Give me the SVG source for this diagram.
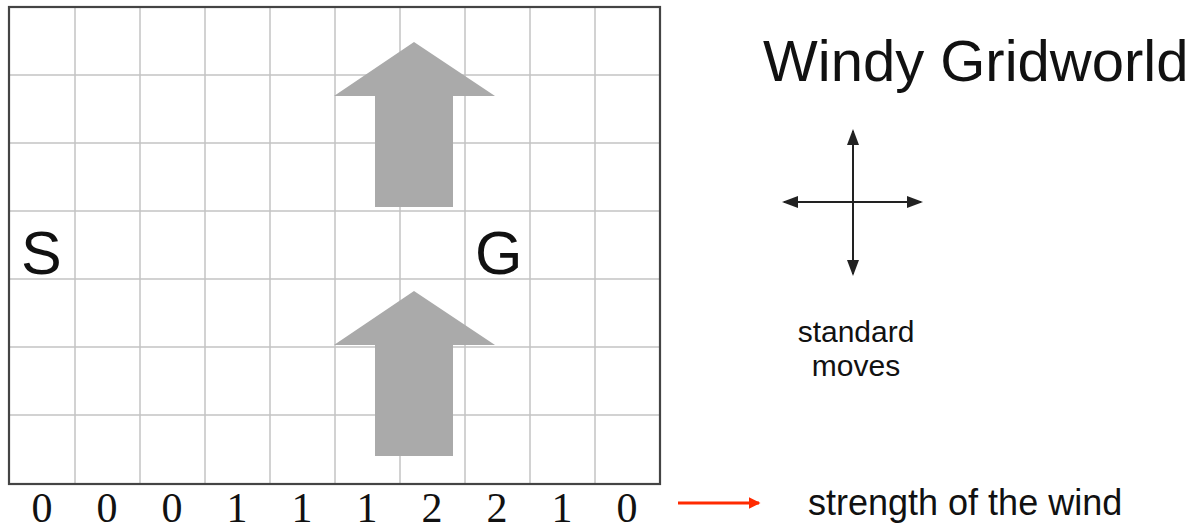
<svg xmlns="http://www.w3.org/2000/svg" width="1197" height="530" viewBox="0 0 1197 530">
<style>
.grid{stroke:#c4c4c4;stroke-width:1.5;fill:none}
.border{stroke:#444;stroke-width:2.2;fill:none}
.wind{fill:#aaaaaa}
.sans{font-family:"Liberation Sans",Arial,sans-serif;fill:#111}
.num{font-family:"Liberation Serif","Times New Roman",serif;font-size:42px;fill:#111;text-anchor:middle}
.mv{stroke:#222;stroke-width:2;fill:none}
</style>
<defs>
<marker id="ah" markerWidth="8" markerHeight="6" refX="7" refY="3" orient="auto" markerUnits="strokeWidth">
<path d="M0,0 L8,3 L0,6 Z" fill="#222"/>
</marker>
<marker id="rh" markerWidth="4" markerHeight="4" refX="3.5" refY="2" orient="auto" markerUnits="strokeWidth">
<path d="M0,0 L4,2 L0,4 Z" fill="#ff2a00"/>
</marker>
</defs>
<g id="grid">
<path class="grid" d="M75,7V484M140,7V484M205,7V484M270,7V484M335,7V484M400,7V484M465,7V484M530,7V484M595,7V484M9,75H660M9,143H660M9,211H660M9,279H660M9,347H660M9,415H660"/>
<rect class="border" x="9" y="7" width="651" height="477"/>
</g>
<g id="wind-arrow-top"><polygon class="wind" points="414,42 495,96 453,96 453,207 375,207 375,96 334,96"/></g>
<g id="wind-arrow-bottom"><polygon class="wind" points="414,291 495,345 453,345 453,456 375,456 375,345 334,345"/></g>
<g id="start"><text class="sans" x="21" y="274" font-size="61">S</text></g>
<g id="goal"><text class="sans" x="475" y="274" font-size="61">G</text></g>
<g id="title"><text class="sans" x="763" y="81" font-size="58">Windy Gridworld</text></g>
<g id="connectors">
<line class="mv" x1="853" y1="202" x2="853" y2="131" marker-end="url(#ah)"/>
<line class="mv" x1="853" y1="202" x2="853" y2="274" marker-end="url(#ah)"/>
<line class="mv" x1="853" y1="202" x2="784" y2="202" marker-end="url(#ah)"/>
<line class="mv" x1="853" y1="202" x2="921" y2="202" marker-end="url(#ah)"/>
<line x1="678" y1="503" x2="759" y2="503" stroke="#ff2a00" stroke-width="3" marker-end="url(#rh)"/>
</g>
<g id="moves-label"><text class="sans" font-size="30" text-anchor="middle"><tspan x="856" y="342">standard</tspan><tspan x="856" y="376">moves</tspan></text></g>
<g id="wind-label"><text class="sans" x="808" y="515" font-size="36">strength of the wind</text></g>
<g id="strengths">
<text class="num" x="42" y="522">0</text>
<text class="num" x="107" y="522">0</text>
<text class="num" x="172" y="522">0</text>
<text class="num" x="237" y="522">1</text>
<text class="num" x="302" y="522">1</text>
<text class="num" x="367" y="522">1</text>
<text class="num" x="432" y="522">2</text>
<text class="num" x="497" y="522">2</text>
<text class="num" x="562" y="522">1</text>
<text class="num" x="627" y="522">0</text>
</g>
</svg>
